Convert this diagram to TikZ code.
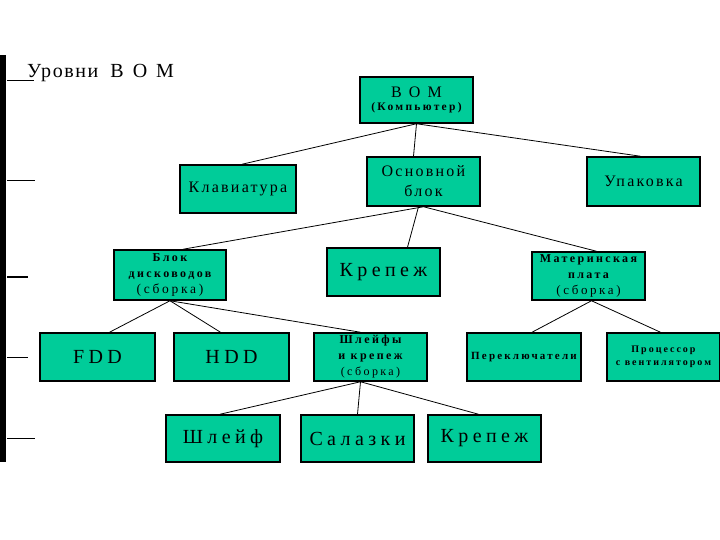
\documentclass[tikz,border=0pt]{standalone}
\usepackage{fontspec}
\setmainfont{Liberation Serif}
\newfontfamily\bomwide[LetterSpace=22]{Liberation Serif}
\newfontfamily\bomvwide[LetterSpace=45]{Liberation Serif}
\newfontfamily\bommid[LetterSpace=14]{Liberation Serif}
\newfontfamily\bomsml[LetterSpace=20]{Liberation Serif}
\newfontfamily\bomti[LetterSpace=8]{Liberation Serif}
\definecolor{boxfill}{RGB}{0,204,153}
\tikzset{
  bx/.style={draw=black, line width=1.5pt, fill=boxfill, align=center, inner sep=1pt, minimum width=113pt, minimum height=48pt},
  big/.style={font=\bomwide\fontsize{20}{22}\selectfont},
  med/.style={font=\bommid\fontsize{16}{20}\selectfont},
  sml/.style={font=\bomsml\fontsize{12}{16}\selectfont},
  cn/.style={line width=0.8pt},
  tick/.style={line width=1pt}
}
\begin{document}
\begin{tikzpicture}[x=1pt,y=-1pt]
\useasboundingbox (0,0) rectangle (720,540);
\fill[white] (0,0) rectangle (720,540);
% level scale
\fill[black] (0,55) rectangle (6,462);
\draw[tick] (7,81) -- (34,81);
\draw[tick] (7,181) -- (35,181);
\draw[line width=2pt] (7,277) -- (28,277);
\draw[tick] (7,357) -- (28,357);
\draw[tick] (7,438) -- (35,438);
\node[anchor=base west, inner sep=0pt] (title) at (27,78) {{\bomti\fontsize{20}{22}\selectfont Уровни}\hspace{12pt}{\bomvwide\fontsize{20}{22}\selectfont ВОМ}};
% boxes
\node[bx, minimum width=113pt, minimum height=46pt] (bom) at (416.5,100) {{\bomvwide\fontsize{16}{18}\selectfont ВОМ}\\[1pt]{\bomsml\bfseries\fontsize{11.5}{13}\selectfont (Компьютер)}};
\node[bx, med, minimum width=116pt] (kl) at (238,189) {Клавиатура};
\node[bx, med, minimum height=49pt] (osn) at (423.5,181.5) {Основной\\блок};
\node[bx, med, minimum height=49pt] (up) at (643.5,181.5) {Упаковка};
\node[bx, sml, minimum width=112pt, minimum height=50pt] (bd) at (170,275) {{\bfseries Блок}\\{\bfseries дисководов}\\{\fontsize{13.5}{15}\selectfont(сборка)}};
\node[bx, big] (kr1) at (383.5,272) {Крепеж};
\node[bx, sml] (mp) at (588.5,276) {{\bfseries Материнская}\\{\bfseries плата}\\{\fontsize{13}{15}\selectfont(сборка)}};
\node[bx, big, minimum width=115pt] (fdd) at (97.5,357) {FDD};
\node[bx, big, minimum width=115pt] (hdd) at (231.5,357) {HDD};
\node[bx, sml] (shl) at (370.5,357) {{\bfseries Шлейфы}\\{\bfseries и крепеж}\\(сборка)};
\node[bx, font=\bomsml\bfseries\fontsize{11}{13}\selectfont, minimum width=114pt] (per) at (524,357) {Переключатели};
\node[bx, font=\bomsml\bfseries\fontsize{10}{13}\selectfont] (proc) at (663.5,357) {Процессор\\с вентилятором};
\node[bx, big, minimum width=114pt, minimum height=47pt] (sh) at (223,438.5) {Шлейф};
\node[bx, big, minimum height=47pt] (sal) at (357.5,438.5) {Салазки};
\node[bx, big, minimum height=47pt] (kr2) at (484.5,438.5) {Крепеж};
% connectors
\draw[cn] (bom.south) -- ([xshift=4pt]kl.north);
\draw[cn] (bom.south) -- ([xshift=-10pt]osn.north);
\draw[cn] (bom.south) -- ([xshift=-3pt]up.north);
\draw[cn] (osn.south) -- ([xshift=13pt]bd.north);
\draw[cn] ([xshift=-5pt]osn.south) -- ([xshift=24pt]kr1.north);
\draw[cn] (osn.south) -- ([xshift=8pt]mp.north);
\draw[cn] (bd.south) -- ([xshift=12pt]fdd.north);
\draw[cn] (bd.south) -- ([xshift=-11pt]hdd.north);
\draw[cn] (bd.south) -- ([xshift=-10pt]shl.north);
\draw[cn] ([xshift=3pt]mp.south) -- ([xshift=8pt]per.north);
\draw[cn] ([xshift=3pt]mp.south) -- ([xshift=-3pt]proc.north);
\draw[cn] ([xshift=-10pt]shl.south) -- ([xshift=-3pt]sh.north);
\draw[cn] ([xshift=-10pt]shl.south) -- (sal.north);
\draw[cn] ([xshift=-10pt]shl.south) -- ([xshift=-6pt]kr2.north);
\end{tikzpicture}
\end{document}
